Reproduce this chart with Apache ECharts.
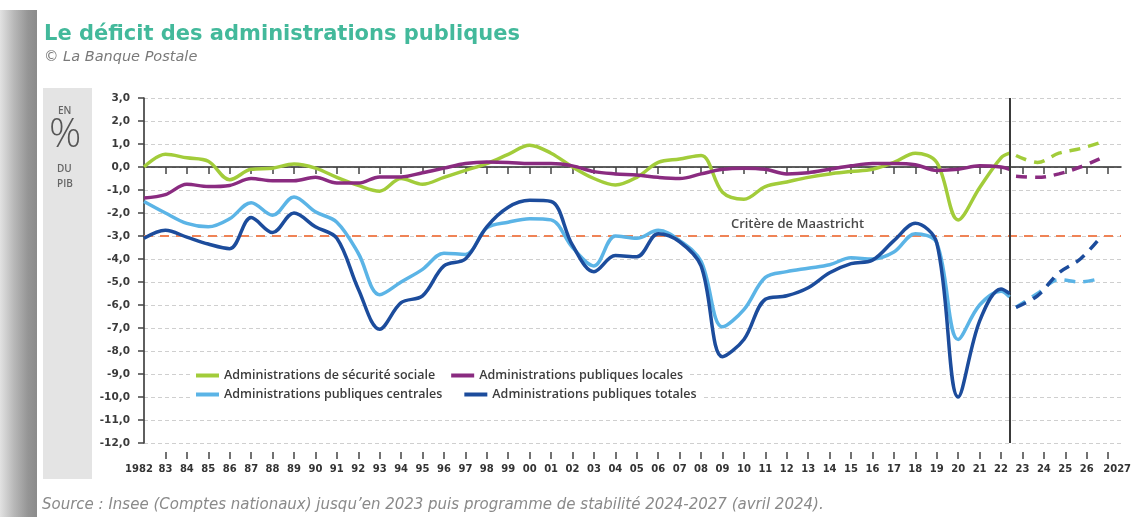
<!DOCTYPE html>
<html>
<head>
    <meta charset="UTF-8">
    <title>Le déficit des administrations publiques</title>
    <script src="https://cdn.jsdelivr.net/npm/echarts@6/dist/echarts.min.js"></script>
    <style>
        html, body { margin: 0; padding: 0; background: #fff; }
        #shadow {
            position: absolute; left: 0; top: 10px; width: 37px; height: 507px;
            background: linear-gradient(to right, #e2e2e2 0px, #b8b8b8 14px, #959595 28px, #8c8c8c 36px);
        }
        #deficitChart { position: absolute; left: 0; top: 0; width: 1132px; height: 517px; }
    </style>
</head>
<body>
    <div id="shadow"></div>
    <div id="deficitChart"></div>
    <script type="text/javascript">

        // years on the axis and their labels
        const tickYears = [1982, 1983, 1984, 1985, 1986, 1987, 1988, 1989, 1990, 1991, 1992, 1993, 1994, 1995, 1996,
            1997, 1998, 1999, 2000, 2001, 2002, 2003, 2004, 2005, 2006, 2007, 2008, 2009, 2010, 2011, 2012, 2013,
            2014, 2015, 2016, 2017, 2018, 2019, 2020, 2021, 2022, 2023, 2024, 2025, 2026, 2027];
        const xLabels = ['1982', '83', '84', '85', '86', '87', '88', '89', '90', '91', '92', '93', '94', '95', '96',
            '97', '98', '99', '00', '01', '02', '03', '04', '05', '06', '07', '08', '09', '10', '11', '12', '13',
            '14', '15', '16', '17', '18', '19', '20', '21', '22', '23', '24', '25', '26', '2027'];

        // observed data (Insee) - last point sits on the forecast separator
        const histYears = [1982, 1983, 1984, 1985, 1986, 1987, 1988, 1989, 1990, 1991, 1992, 1993, 1994, 1995, 1996,
            1997, 1998, 1999, 2000, 2001, 2002, 2003, 2004, 2005, 2006, 2007, 2008, 2009, 2010, 2011, 2012, 2013,
            2014, 2015, 2016, 2017, 2018, 2019, 2020, 2021, 2022, 2022.4];
        const secuSociale = [0.0, 0.55, 0.4, 0.25, -0.55, -0.1, -0.05, 0.13, -0.05, -0.45, -0.8, -1.05, -0.5, -0.75, -0.45,
            -0.15, 0.15, 0.55, 0.95, 0.6, 0.0, -0.5, -0.78, -0.45, 0.2, 0.35, 0.5, -1.1, -1.4, -0.85, -0.65, -0.45,
            -0.3, -0.2, -0.1, 0.2, 0.6, 0.2, -2.3, -0.9, 0.4, 0.6];
        const locales = [-1.35, -1.2, -0.75, -0.85, -0.8, -0.5, -0.6, -0.6, -0.45, -0.7, -0.7, -0.43, -0.43, -0.25, -0.05,
            0.15, 0.22, 0.2, 0.15, 0.15, 0.05, -0.2, -0.3, -0.35, -0.45, -0.5, -0.3, -0.1, -0.05, -0.1, -0.3, -0.25,
            -0.1, 0.05, 0.15, 0.15, 0.1, -0.15, -0.1, 0.05, 0.0, -0.1];
        const centrales = [-1.5, -2.0, -2.45, -2.6, -2.25, -1.55, -2.1, -1.3, -1.95, -2.4, -3.75, -5.55, -5.0, -4.45, -3.75,
            -3.8, -2.65, -2.4, -2.25, -2.3, -3.5, -4.3, -3.0, -3.1, -2.75, -3.2, -4.1, -6.95, -6.2, -4.8, -4.55, -4.4,
            -4.25, -3.95, -4.0, -3.7, -2.9, -3.3, -7.5, -6.0, -5.4, -5.65];
        const totales = [-3.1, -2.75, -3.05, -3.35, -3.55, -2.2, -2.85, -2.0, -2.6, -3.1, -5.3, -7.05, -5.9, -5.6, -4.3,
            -4.0, -2.6, -1.75, -1.45, -1.5, -3.4, -4.55, -3.85, -3.9, -2.9, -3.25, -4.3, -8.25, -7.5, -5.75, -5.6, -5.25,
            -4.6, -4.2, -4.05, -3.2, -2.45, -3.3, -10.0, -6.7, -5.3, -5.5];

        // programme de stabilité 2024-2027
        const projYears = [2022.7, 2023.7, 2024.7, 2025.7, 2026.6];
        const secuProj = [0.5, 0.2, 0.6, 0.8, 1.05];
        const localesProj = [-0.4, -0.45, -0.3, 0.0, 0.35];
        const centralesProj = [-6.1, -5.5, -4.9, -5.0, -4.85];
        const totalesProj = [-6.1, -5.6, -4.6, -4.0, -3.1];

        const separatorYear = 2022.4;
        const maastricht = -3;

        const names = ['Administrations de sécurité sociale', 'Administrations publiques locales',
            'Administrations publiques centrales', 'Administrations publiques totales'];
        const colors = ['#a2cc3a', '#8a2b80', '#5bb4e6', '#1c4c9c'];

        const FONT = '"Open Sans", sans-serif';
        const WIDE = '"DejaVu Sans", sans-serif';

        function pairs(xs, ys) {
            return xs.map((x, i) => [x, ys[i]]);
        }

        function fmtComma(v) {
            return v.toFixed(1).replace('.', ',');
        }

        const firstYear = tickYears[0];
        const lastYear = tickYears[tickYears.length - 1];

        function yearLabel(v) {
            return xLabels[tickYears.indexOf(v)];
        }

        function edgeLabel(v) {
            return (v === firstYear ? '{a|' : '{b|') + yearLabel(v) + '}';
        }

        var chart = echarts.init(document.getElementById('deficitChart'), null, {renderer: 'canvas'});

        const hist = [secuSociale, locales, centrales, totales];
        const proj = [secuProj, localesProj, centralesProj, totalesProj];

        const series = [];
        hist.forEach((vals, i) => {
            series.push({
                name: names[i],
                type: 'line',
                xAxisIndex: 0,
                data: pairs(histYears, vals),
                smooth: 0.35,
                showSymbol: false,
                lineStyle: {color: colors[i], width: 3.5},
                itemStyle: {color: colors[i]},
                z: 3 + i
            });
        });
        proj.forEach((vals, i) => {
            series.push({
                name: names[i],
                type: 'line',
                xAxisIndex: 0,
                data: pairs(projYears, vals),
                smooth: 0.35,
                showSymbol: false,
                lineStyle: {color: colors[i], width: 3.5, type: [11, 8]},
                itemStyle: {color: colors[i]},
                z: 3 + i
            });
        });

        // reference lines: Maastricht criterion and forecast separator
        series.push({
            type: 'line',
            data: [],
            markLine: {
                silent: true,
                symbol: 'none',
                label: {show: false},
                data: [
                    {yAxis: maastricht, lineStyle: {color: '#ef8356', width: 2, type: [9, 7]}},
                    {xAxis: separatorYear, lineStyle: {color: '#3a3a3a', width: 2, type: 'solid'}}
                ]
            },
            markPoint: {
                symbol: 'circle',
                symbolSize: 0,
                data: [{coord: [2012.5, maastricht]}],
                label: {
                    show: true,
                    position: 'top',
                    distance: 5,
                    formatter: 'Critère de Maastricht',
                    color: '#4a4a4a',
                    fontFamily: FONT,
                    fontWeight: 600,
                    fontSize: 13
                }
            },
            z: 2
        });

        // empty series so the small tick strip grid has something attached
        series.push({type: 'line', xAxisIndex: 3, yAxisIndex: 1, data: [], silent: true});

        const legendText = {color: '#3c3c3c', fontFamily: FONT, fontWeight: 600, fontSize: 12.5};
        const xLabelFont = {color: '#333', fontFamily: WIDE, fontWeight: 'bold', fontSize: 10};
        const tickStyle = {color: '#444', width: 1.5};

        var option = {
            animation: false,
            textStyle: {fontFamily: FONT},
            title: {
                text: 'Le déficit des administrations publiques',
                subtext: '© La Banque Postale',
                left: 39,
                top: 19,
                itemGap: 5,
                textStyle: {color: '#43b99b', fontSize: 21, fontWeight: 'bold', fontFamily: WIDE},
                subtextStyle: {color: '#7a7a7a', fontSize: 14.5, fontStyle: 'italic', fontFamily: WIDE}
            },
            legend: [
                {
                    data: [names[0], names[1]],
                    left: 190, top: 366,
                    icon: 'rect', itemWidth: 23, itemHeight: 4, itemGap: 16,
                    backgroundColor: '#fff', padding: [3, 6, 2, 6],
                    textStyle: legendText
                },
                {
                    data: [names[2], names[3]],
                    left: 190, top: 386,
                    icon: 'rect', itemWidth: 23, itemHeight: 4, itemGap: 22,
                    backgroundColor: '#fff', padding: [2, 6, 3, 6],
                    textStyle: legendText
                }
            ],
            grid: [
                {left: 144, right: 11, top: 98, bottom: 74, outerBoundsMode: 'none'},
                // thin strip under the plot holding the bottom ticks
                {left: 144, right: 11, top: 452, height: 7, outerBoundsMode: 'none'}
            ],
            xAxis: [
                {
                    // zero line with hanging ticks
                    type: 'value',
                    min: 1982, max: 2027.6,
                    axisLine: {onZero: true, lineStyle: {color: '#2a2a2a', width: 1.5}},
                    axisTick: {show: true, length: 7, customValues: tickYears.slice(1), lineStyle: tickStyle},
                    axisLabel: {show: false},
                    splitLine: {show: false}
                },
                {
                    // short year labels
                    type: 'value',
                    position: 'bottom',
                    min: 1982, max: 2027.6,
                    axisLine: {show: false, onZero: false},
                    axisTick: {show: false},
                    axisLabel: {
                        show: true,
                        margin: 21,
                        customValues: tickYears.slice(1, -1),
                        formatter: yearLabel,
                        ...xLabelFont
                    },
                    splitLine: {show: false}
                },
                {
                    // first and last full years
                    type: 'value',
                    position: 'bottom',
                    min: 1982, max: 2027.6,
                    axisLine: {show: false, onZero: false},
                    axisTick: {show: false},
                    axisLabel: {
                        show: true,
                        margin: 21,
                        customValues: [firstYear, lastYear],
                        formatter: edgeLabel,
                        rich: {
                            a: {...xLabelFont, padding: [0, 10, 0, 0]},
                            b: {...xLabelFont, padding: [0, 0, 0, 18]}
                        }
                    },
                    splitLine: {show: false}
                },
                {
                    // bottom ticks
                    type: 'value',
                    gridIndex: 1,
                    position: 'bottom',
                    min: 1982, max: 2027.6,
                    axisLine: {show: true, onZero: false, lineStyle: {color: 'rgba(255,255,255,0)', width: 1}},
                    axisTick: {show: true, inside: true, length: 7, customValues: tickYears.slice(1), lineStyle: tickStyle},
                    axisLabel: {show: false},
                    splitLine: {show: false}
                }
            ],
            yAxis: [
                {
                    type: 'value',
                    min: -12, max: 3, interval: 1,
                    axisLine: {show: true, onZero: false, lineStyle: {color: '#2a2a2a', width: 1.5}},
                    axisTick: {show: true, length: 6, lineStyle: tickStyle},
                    axisLabel: {
                        margin: 14,
                        formatter: fmtComma,
                        color: '#3a3a3a', fontFamily: WIDE, fontWeight: 'bold', fontSize: 10.5
                    },
                    splitLine: {show: true, lineStyle: {color: '#cfcfcf', width: 1, type: [4, 3]}}
                },
                {
                    type: 'value',
                    gridIndex: 1,
                    min: 0, max: 1,
                    show: false
                }
            ],
            graphic: [
                {type: 'rect', left: 43, top: 88, shape: {width: 49, height: 391}, style: {fill: '#e4e4e4'}, z: -1},
                {type: 'text', left: 58, top: 106, style: {text: 'EN', fill: '#666', font: '600 10px "Open Sans"'}},
                {type: 'text', left: 49, top: 116, style: {text: '%', fill: '#555', font: '300 40px "Open Sans"'}},
                {type: 'text', left: 57, top: 164, style: {text: 'DU', fill: '#666', font: '600 10px "Open Sans"'}},
                {type: 'text', left: 57, top: 179, style: {text: 'PIB', fill: '#666', font: '600 10px "Open Sans"'}},
                {
                    type: 'text', left: 42, top: 498,
                    style: {
                        text: 'Source : Insee (Comptes nationaux) jusqu\u2019en 2023 puis programme de stabilité 2024-2027 (avril 2024).',
                        fill: '#8a8a8a', font: 'italic 15px "DejaVu Sans"'
                    }
                }
            ],
            series: series
        };

        chart.setOption(option);
    </script>
</body>
</html>
